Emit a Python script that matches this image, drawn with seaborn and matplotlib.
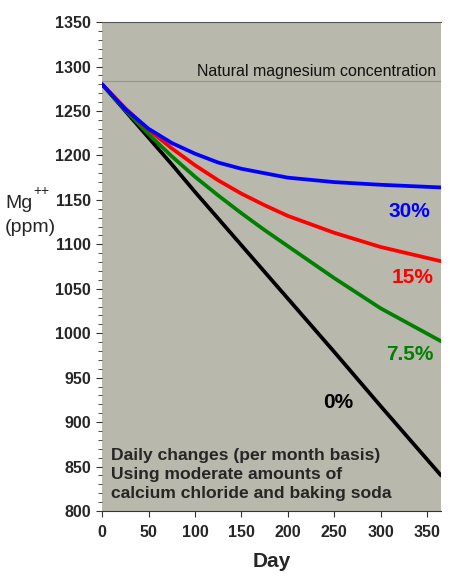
import pandas as pd
import matplotlib
matplotlib.use('Agg')
import matplotlib.pyplot as plt
import seaborn as sns

# === Data ===
days = [0, 25, 50, 75, 100, 125, 150, 175, 200, 250, 300, 365]
mg_30 = [1280, 1252, 1230, 1214, 1202, 1192, 1185, 1180, 1175, 1170, 1167, 1164]
mg_15 = [1280, 1253, 1229, 1208, 1189, 1172, 1157, 1144, 1132, 1113, 1097, 1081]
mg_75 = [1280, 1251, 1224, 1199, 1176, 1155, 1135, 1116, 1098, 1062, 1028, 991]
mg_0 = [1280, 1250, 1220, 1190, 1159, 1129, 1099, 1069, 1039, 979, 918, 840]
series = ['30%', '15%', '7.5%', '0%']
colors = ['#0000ff', '#ff0000', '#008000', '#000000']
natural_mg = 1284

df = pd.DataFrame({
    'Day': days * 4,
    'Mg': mg_30 + mg_15 + mg_75 + mg_0,
    'Series': [s for s in series for _ in days],
})

# === Plot ===
sns.set_style('white')
plt.rcParams['font.family'] = ['Liberation Sans', 'DejaVu Sans']

fig = plt.figure(figsize=(4.5, 5.82), dpi=100)
ax = fig.add_axes([0.227, 0.122, 0.753, 0.84])
ax.set_facecolor('#b8b8ac')

ax.axhline(natural_mg, color='#94948a', lw=0.8, zorder=1)
ax.text(0.985, 0.9, 'Natural magnesium concentration', transform=ax.transAxes,
        ha='right', va='center', fontsize=11.5, color='#111111')

sns.lineplot(data=df, x='Day', y='Mg', hue='Series', hue_order=series[::-1],
             palette=dict(zip(series, colors)), lw=2.7, legend=False, ax=ax,
             zorder=3)

# series labels
lab_pos = {'30%': (331, 1137), '15%': (334, 1063), '7.5%': (331, 976), '0%': (254, 922)}
for s, c in zip(series, colors):
    x, y = lab_pos[s]
    ax.text(x, y, s, color=c, fontsize=15, fontweight='bold', ha='center', va='center')

ax.text(9, 841, 'Daily changes (per month basis)\nUsing moderate amounts of\ncalcium chloride and baking soda',
        fontsize=12.6, fontweight='bold', ha='left', va='center', linespacing=1.3)

ax.set_xlim(0, 365)
ax.set_ylim(800, 1350)
ax.set_xticks(range(0, 351, 50))
ax.set_yticks(range(800, 1351, 50))
ax.set_yticks(range(800, 1351, 10), minor=True)
ax.tick_params(axis='both', which='major', direction='out', length=4, width=0.8,
               color='#333333', labelsize=11.5, pad=4)
ax.tick_params(axis='y', which='minor', direction='out', length=3, width=0.6,
               color='#333333', left=True)
ax.tick_params(axis='x', bottom=True, pad=6)
ax.tick_params(axis='y', left=True)
for lbl in ax.get_xticklabels() + ax.get_yticklabels():
    lbl.set_fontweight('bold')

for side in ['right', 'left']:
    ax.spines[side].set_visible(False)
ax.spines['top'].set_color('#555555')
ax.spines['top'].set_linewidth(0.8)
ax.spines['bottom'].set_color('#333333')
ax.spines['bottom'].set_linewidth(0.8)

ax.set_xlabel('Day', fontsize=15, fontweight='bold', labelpad=9)
ax.set_ylabel('')
fig.text(0.011, 1 - 203 / 582, 'Mg', fontsize=14, ha='left', va='center')
fig.text(0.075, 1 - 191 / 582, '++', fontsize=10, ha='left', va='center')
fig.text(0.011, 1 - 228 / 582, '(ppm)', fontsize=14, ha='left', va='center')

fig.savefig('out.png', dpi=100, facecolor='white')
